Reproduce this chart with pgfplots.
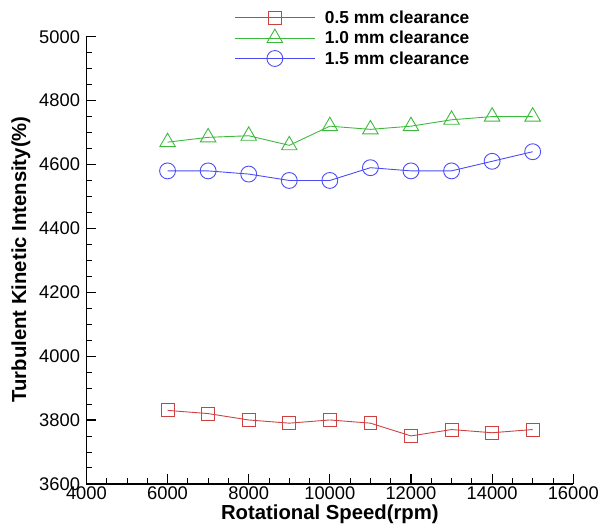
\documentclass[border=0pt]{standalone}
\usepackage{fontspec}
\setmainfont{Liberation Sans}
\usepackage{pgfplots}
\pgfplotsset{compat=1.18}
\definecolor{cred}{RGB}{205,65,65}
\definecolor{cgreen}{RGB}{60,185,60}
\definecolor{cblue}{RGB}{75,75,245}
\begin{document}
\begin{tikzpicture}
\begin{axis}[
  at={(0,0)}, anchor=south west,
  scale only axis, width=490bp, height=450bp,
  xmin=4000, xmax=16000, ymin=3600, ymax=5000,
  axis x line*=bottom, axis y line*=left,
  axis line style={line width=1.6pt},
  xtick={4000,6000,...,16000}, ytick={3600,3800,...,5000},
  scaled x ticks=false, scaled y ticks=false,
  minor tick num=3,
  tick align=inside,
  major tick length=10bp, minor tick length=6bp,
  every tick/.style={black, line width=1.2pt},
  minor tick style={line width=0.8pt},
  /pgf/number format/assume math mode=true,
  /pgf/number format/1000 sep={},
  tick label style={font=\fontsize{18.5}{20}\selectfont},
  yticklabel style={xshift=-3bp},
  xticklabel style={yshift=1bp},
  xlabel={\textbf{Rotational Speed(rpm)}},
  ylabel={\textbf{Turbulent Kinetic Intensity(\%)}},
  label style={font=\fontsize{20.5}{22}\selectfont},
  xlabel style={at={(axis description cs:0.5,0)}, anchor=base, yshift=-36bp},
  ylabel style={at={(axis description cs:0,0.502)}, anchor=center, yshift=66bp},
  legend style={draw=none, fill=none, at={(0.298,1.068)}, anchor=north west,
    font=\bfseries\fontsize{17.5}{19}\selectfont, row sep=2.5bp,
    cells={anchor=west}},
  legend image code/.code={\draw[mark repeat=2,mark phase=2,#1] plot coordinates {(0bp,0bp) (40bp,0bp) (80bp,0bp)}; \path (88bp,0bp);},
  clip=false,
]
\addplot[cred, line width=0.9pt, mark=square, mark size=6.5bp, mark options={line width=0.9pt, fill=none}] coordinates {
(6000,3830) (7000,3820) (8000,3800) (9000,3790) (10000,3800) (11000,3790) (12000,3750) (13000,3770) (14000,3760) (15000,3770)};
\addlegendentry{0.5 mm clearance}
\addplot[cgreen, line width=0.9pt, mark=triangle, mark size=9bp, mark options={line width=0.9pt, fill=none}] coordinates {
(6000,4670) (7000,4685) (8000,4690) (9000,4660) (10000,4720) (11000,4710) (12000,4720) (13000,4740) (14000,4750) (15000,4750)};
\addlegendentry{1.0 mm clearance}
\addplot[cblue, line width=0.9pt, mark=o, mark size=8bp, mark options={line width=0.9pt, fill=none}] coordinates {
(6000,4580) (7000,4580) (8000,4570) (9000,4550) (10000,4550) (11000,4590) (12000,4580) (13000,4580) (14000,4610) (15000,4640)};
\addlegendentry{1.5 mm clearance}
\end{axis}
\useasboundingbox (-87bp,-42bp) rectangle (515bp,487bp);
\end{tikzpicture}
\end{document}
